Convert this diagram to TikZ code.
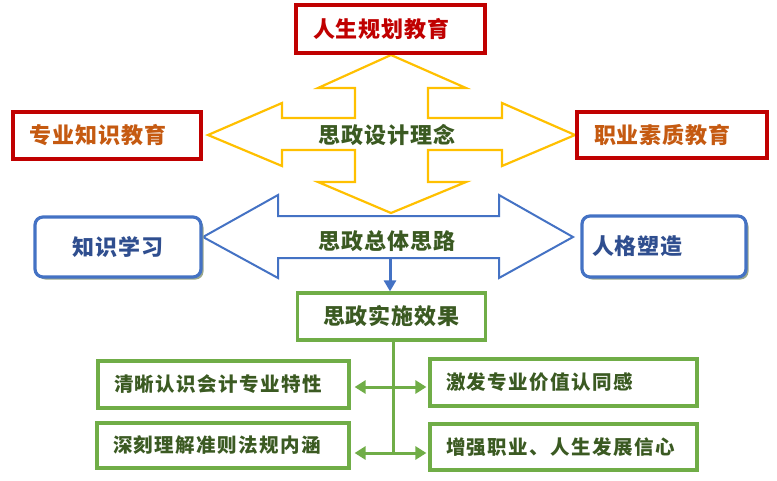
\documentclass[tikz,border=0pt]{standalone}
\usepackage{fontspec}
\newfontfamily\cjkbig{Noto Sans CJK SC}[LetterSpace=4.5]
\newfontfamily\cjksmall{Noto Sans CJK SC}[LetterSpace=7.5]
\usetikzlibrary{arrows.meta,shadows,calc}
\definecolor{redc}{HTML}{C00000}
\definecolor{orgc}{HTML}{C55A11}
\definecolor{yel}{HTML}{FFC000}
\definecolor{blu}{HTML}{4472C4}
\definecolor{dblue}{HTML}{2F4E8F}
\definecolor{grn}{HTML}{70AD47}
\definecolor{dgrn}{HTML}{3B5A22}
\definecolor{shadowc}{HTML}{9BA88C}
\tikzset{
  bigfont/.style={font=\cjkbig\bfseries\fontsize{22}{24}\selectfont},
  smallfont/.style={font=\cjksmall\bfseries\fontsize{19.5}{21}\selectfont},
  redbox/.style={draw=redc, line width=3.5pt, fill=white, inner xsep=17pt, inner ysep=0pt, align=left, bigfont},
  bluebox/.style={draw=blu, line width=3.2pt, fill=white, rounded corners=8pt, inner ysep=0pt, bigfont, text=dblue,
    drop shadow={shadow xshift=2.5pt, shadow yshift=-2.5pt, fill=shadowc, opacity=1}},
  greenbox/.style={draw=grn, line width=3.2pt, fill=white, inner ysep=0pt},
  resbox/.style={greenbox, inner xsep=16pt, align=left, smallfont, text=dgrn},
  midtext/.style={bigfont, text=dgrn, inner sep=0pt},
  yshape/.style={draw=yel, line width=2.2pt, line join=miter, fill=white},
  bshape/.style={draw=blu, line width=2pt, line join=miter, fill=white},
  gline/.style={draw=grn, line width=3pt},
  garrow/.style={gline, {Triangle[length=11pt,width=13pt]}-{Triangle[length=11pt,width=13pt]}},
  barrow/.style={draw=blu, line width=3pt, -{Triangle[length=11pt,width=12pt]}}
}
\begin{document}
\begin{tikzpicture}[x=1pt,y=-1pt]
\useasboundingbox (0,0) rectangle (777,480);

% yellow four-way arrow
\draw[yshape] (391,55) -- (466,88) -- (428,88) -- (428,118) -- (502,118) -- (502,103)
  -- (575,135) -- (502,166) -- (502,150) -- (428,150) -- (428,182) -- (466,182)
  -- (391,213) -- (318,182) -- (355,182) -- (355,150) -- (282,150) -- (282,166)
  -- (208,135) -- (282,103) -- (282,118) -- (355,118) -- (355,88) -- (318,88) -- cycle;
\node[midtext] (design) at (387,135) {思政设计理念};

% blue double arrow
\draw[bshape] (203,237) -- (278,195) -- (278,216) -- (499,216) -- (499,195) -- (573,237)
  -- (499,278) -- (499,258) -- (278,258) -- (278,278) -- cycle;
\node[midtext] (overall) at (387,241) {思政总体思路};

% red boxes
\node[redbox, text=redc, text width=155pt, minimum height=48pt] (life) at (390.5,29) {人生规划教育};
\node[redbox, text=orgc, text width=154pt, minimum height=47pt] (major) at (107,135.5) {专业知识教育};
\node[redbox, text=orgc, text width=156pt, minimum height=46pt] (career) at (672,135) {职业素质教育};

% blue boxes
\node[bluebox, minimum width=166pt, minimum height=60pt] (know) at (118,247) {知识学习};
\node[bluebox, inner xsep=10pt, text width=144pt, align=left, minimum height=61pt] (person) at (664,246.5) {人格塑造};

% green effect box
\node[greenbox, midtext, inner sep=0pt, minimum width=188pt, minimum height=47pt] (effect) at (391.5,316.5) {思政实施效果};

% result boxes
\node[resbox, text width=219pt, minimum height=47pt] (b1) at (223.5,384.5) {清晰认识会计专业特性};
\node[resbox, text width=220pt, minimum height=45pt] (b2) at (223,445.5) {深刻理解准则法规内涵};
\node[resbox, text width=235pt, minimum height=47pt] (b3) at (563.5,382.5) {激发专业价值认同感};
\node[resbox, text width=235pt, minimum height=46pt] (b4) at (563.5,447) {增强职业、人生发展信心};

% connectors
\coordinate (bstart) at (390,258);
\draw[barrow] (bstart) -- (bstart |- effect.north);

\coordinate (jn1) at (393,387);
\coordinate (jn2) at (393,453);
\draw[gline] (effect.south -| jn1) -- (jn2);
\draw[garrow] ($(b1.east |- jn1)+(4,0)$) -- ($(b3.west |- jn1)+(-2,0)$);
\draw[garrow] ($(b2.east |- jn2)+(4,0)$) -- ($(b4.west |- jn2)+(-2,0)$);
\end{tikzpicture}
\end{document}
